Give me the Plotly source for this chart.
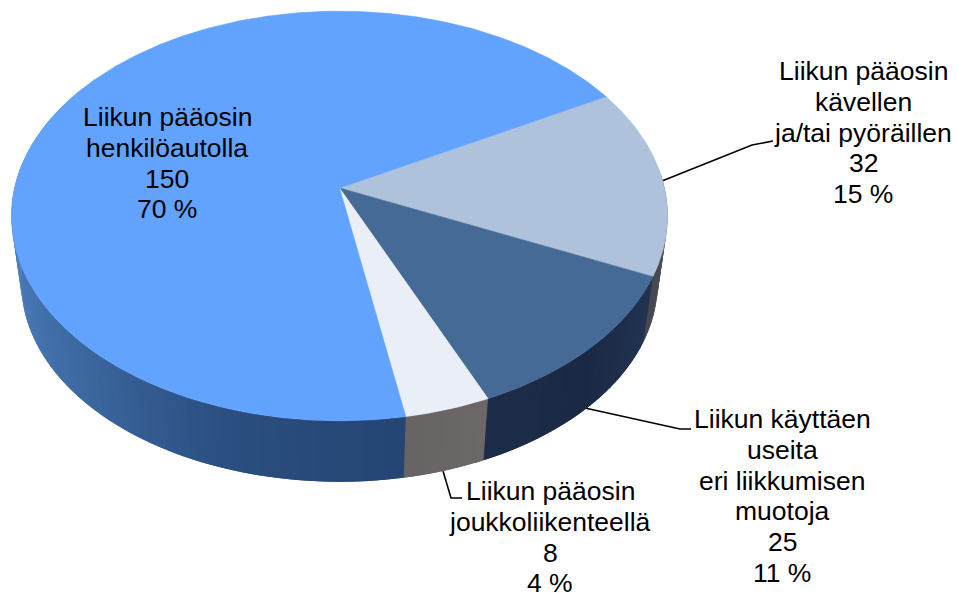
import numpy as np
import plotly.graph_objects as go

# ---- data ----
categories = [
    ["Liikun pääosin", "kävellen", "ja/tai pyöräillen"],
    ["Liikun käyttäen", "useita", "eri liikkumisen", "muotoja"],
    ["Liikun pääosin", "joukkoliikenteellä"],
    ["Liikun pääosin", "henkilöautolla"],
]
values = [32, 25, 8, 150]
percents = ["15 %", "11 %", "4 %", "70 %"]
top_colors = ["#aec2dc", "#456a96", "#eaeef6", "#62a3ff"]

# ---- styling / projection of the tilted disc ----
W, H = 958, 597
CX, CY = 339.5, 188.0   # projected centre of the disc
A, B, K = 325.0, 201.0, 0.1366
START_DEG = 61.0
WALL_SHIFT, WALL_SCALE = 68.0, 0.97

# wall shading stops: (fraction along slice, colour)
wall_stops = [
    [(0, (88, 90, 100)), (1, (70, 72, 82))],
    [(0, (34, 52, 82)), (0.5, (27, 42, 68)), (1, (29, 44, 72))],
    [(0, (108, 104, 104)), (1, (104, 100, 100))],
    [(0, (37, 70, 117)), (0.1, (42, 78, 127)), (0.22, (60, 104, 160)),
     (0.34, (76, 124, 186)), (0.5, (90, 147, 216)), (1, (98, 163, 255))],
]


def project(theta_deg):
    t = np.radians(theta_deg)
    X, Y = np.sin(t), np.cos(t)
    f = 1 + K * Y
    return A * X / f, -B * Y / f


def mix(stops, frac):
    fr = [s[0] for s in stops]
    return "rgb(%d,%d,%d)" % tuple(
        np.interp(frac, fr, [s[1][i] for s in stops]) for i in range(3)
    )


shares = np.array(values, dtype=float) / sum(values) * 360.0
edges = START_DEG + np.concatenate([[0], np.cumsum(shares)])

fig = go.Figure()

# side wall, drawn as thin overlapping strips along the visible rim
for i in range(len(values)):
    a0, a1 = edges[i], edges[i + 1]
    n = max(1, int(round((a1 - a0) / 1.5)))
    grid = np.linspace(a0, a1, n + 1)
    for j in range(n):
        if grid[j] > 300 or grid[j + 1] < 85:
            continue
        th = np.linspace(grid[j], grid[j + 1] + 1.5, 5)
        dx, dy = project(th)
        tx, ty = CX + dx, CY + dy
        bx, by = CX + WALL_SCALE * dx, CY + WALL_SHIFT + WALL_SCALE * dy
        col = mix(wall_stops[i], (grid[j] - a0) / (a1 - a0))
        fig.add_trace(go.Scatter(
            x=np.concatenate([tx, bx[::-1]]), y=np.concatenate([ty, by[::-1]]),
            mode="lines", fill="toself", fillcolor=col,
            line=dict(color=col, width=0), hoverinfo="skip", showlegend=False,
        ))

# top face
for i in range(len(values)):
    th = np.linspace(edges[i], edges[i + 1], max(3, int(shares[i] * 2)))
    dx, dy = project(th)
    fig.add_trace(go.Scatter(
        x=np.concatenate([[CX], CX + dx, [CX]]),
        y=np.concatenate([[CY], CY + dy, [CY]]),
        mode="lines", fill="toself", fillcolor=top_colors[i],
        line=dict(color=top_colors[i], width=0.6),
        name=" ".join(categories[i]), hoverinfo="name", showlegend=False,
    ))

# labels: one annotation per line so the leading matches
label_pos = [(863, 71), (782, 419), (550, 491), (167, 117)]
PITCH = 30.8
for i in range(len(values)):
    lines = categories[i] + [str(values[i]), percents[i]]
    x0, y0 = label_pos[i]
    for k, txt in enumerate(lines):
        fig.add_annotation(
            x=x0, y=y0 + k * PITCH, text=txt, showarrow=False,
            xanchor="center", yanchor="middle",
            font=dict(family="Liberation Sans", size=26.5, color="#000000"),
        )

# leader lines
leaders = [
    [(662, 181), (752, 145), (773, 141)],
    [(585, 408), (680, 429), (691, 429)],
    [(443, 471), (451, 498), (462, 498)],
]
for pts in leaders:
    path = "M " + " L ".join(f"{x} {y}" for x, y in pts)
    fig.add_shape(type="path", path=path, xref="x", yref="y",
                  line=dict(color="#000000", width=1.6), layer="below")

fig.update_layout(
    width=W, height=H, margin=dict(l=0, r=0, t=0, b=0),
    paper_bgcolor="#ffffff", plot_bgcolor="#ffffff",
    xaxis=dict(range=[0, W], visible=False, fixedrange=True),
    yaxis=dict(range=[H, 0], visible=False, fixedrange=True),
)
fig.write_html("out.html", post_script="document.body.style.margin='0';document.body.style.overflow='hidden';",
               config={"displayModeBar": False})
